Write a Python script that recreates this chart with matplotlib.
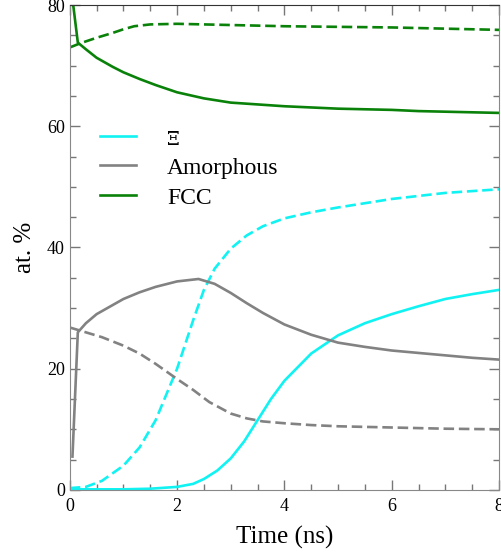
import matplotlib
matplotlib.use("Agg")
import matplotlib.pyplot as plt
from matplotlib.ticker import MultipleLocator

plt.rcParams['font.family'] = ['Liberation Serif', 'DejaVu Serif']

cyan = '#11f2f2'
gray = '#828282'
green = '#0a820a'

# Xi phase
t_xi_s = [0, 0.5, 1.0, 1.5, 2.0, 2.3, 2.5, 2.75, 3.0, 3.25, 3.5, 3.75, 4.0, 4.5, 5.0, 5.5, 6.0, 6.5, 7.0, 7.5, 8.0]
xi_s = [0.1, 0.1, 0.1, 0.2, 0.5, 1.0, 1.8, 3.2, 5.2, 8.0, 11.5, 15.0, 18.0, 22.5, 25.5, 27.5, 29.0, 30.3, 31.5, 32.3, 33.0]
t_xi_d = [0, 0.3, 0.6, 1.0, 1.3, 1.6, 2.0, 2.3, 2.5, 2.7, 3.0, 3.3, 3.6, 4.0, 4.5, 5.0, 5.5, 6.0, 6.5, 7.0, 7.5, 8.0]
xi_d = [0.3, 0.5, 1.5, 4.0, 7.0, 11.5, 20.0, 28.0, 33.0, 36.5, 39.8, 42.0, 43.5, 44.8, 45.8, 46.6, 47.3, 48.0, 48.5, 49.0, 49.3, 49.6]

# Amorphous
t_am_s = [0.05, 0.15, 0.3, 0.5, 0.8, 1.0, 1.3, 1.6, 2.0, 2.4, 2.7, 3.0, 3.3, 3.6, 4.0, 4.5, 5.0, 5.5, 6.0, 6.5, 7.0, 7.5, 8.0]
am_s = [5.5, 26.0, 27.5, 29.0, 30.5, 31.5, 32.6, 33.5, 34.4, 34.8, 34.0, 32.5, 30.8, 29.2, 27.3, 25.6, 24.3, 23.6, 23.0, 22.6, 22.2, 21.8, 21.5]
t_am_d = [0, 0.3, 0.6, 1.0, 1.3, 1.6, 2.0, 2.3, 2.6, 3.0, 3.3, 3.6, 4.0, 4.5, 5.0, 6.0, 7.0, 8.0]
am_d = [26.8, 26.0, 25.2, 23.8, 22.5, 20.8, 18.3, 16.5, 14.5, 12.6, 11.8, 11.3, 11.0, 10.7, 10.5, 10.3, 10.1, 10.0]

# FCC
t_fcc_s = [0.05, 0.15, 0.3, 0.5, 0.8, 1.0, 1.3, 1.6, 2.0, 2.5, 3.0, 3.5, 4.0, 4.5, 5.0, 5.5, 6.0, 6.5, 7.0, 7.5, 8.0]
fcc_s = [81.0, 73.8, 72.7, 71.3, 69.8, 68.9, 67.8, 66.8, 65.6, 64.6, 63.9, 63.6, 63.3, 63.1, 62.9, 62.8, 62.7, 62.5, 62.4, 62.3, 62.2]
t_fcc_d = [0, 0.2, 0.5, 0.8, 1.0, 1.2, 1.5, 2.0, 2.5, 3.0, 4.0, 5.0, 6.0, 7.0, 8.0]
fcc_d = [73.0, 73.7, 74.6, 75.4, 76.0, 76.5, 76.8, 76.9, 76.8, 76.7, 76.5, 76.4, 76.3, 76.1, 75.9]

fig = plt.figure(figsize=(5.02, 5.58), dpi=100)
ax = fig.add_axes([0.139, 0.122, 0.855, 0.869])

lw = 1.9
dash = (0, (4.0, 1.8))
ax.plot(t_xi_s, xi_s, color=cyan, lw=lw, label='Ξ')
ax.plot(t_xi_d, xi_d, color=cyan, lw=lw, linestyle=dash)
ax.plot(t_am_s, am_s, color=gray, lw=lw, label='Amorphous')
ax.plot(t_am_d, am_d, color=gray, lw=lw, linestyle=dash)
ax.plot(t_fcc_s, fcc_s, color=green, lw=lw, label='FCC')
ax.plot(t_fcc_d, fcc_d, color=green, lw=lw, linestyle=dash)

ax.set_xlim(0, 8)
ax.set_ylim(0, 80)
ax.xaxis.set_major_locator(MultipleLocator(2))
ax.xaxis.set_minor_locator(MultipleLocator(0.5))
ax.yaxis.set_major_locator(MultipleLocator(20))
ax.yaxis.set_minor_locator(MultipleLocator(5))
ax.tick_params(which='both', direction='in', top=True, right=True, labelsize=13, colors='#777777', labelcolor='black')
ax.tick_params(which='major', length=7, width=1)
ax.tick_params(which='minor', length=4, width=1)
ax.tick_params(axis='x', pad=6)
for s in ['left', 'bottom', 'right']:
    ax.spines[s].set_color('#888888')
ax.spines['top'].set_color('#333333')

ax.set_xlabel('Time (ns)', fontsize=18, labelpad=8)
ax.set_ylabel('at. %', fontsize=18, labelpad=8)

leg = ax.legend(loc='upper left', bbox_to_anchor=(0.02, 0.79), frameon=False, fontsize=17,
                handlelength=1.55, handletextpad=1.3, labelspacing=0.36)
leg.get_texts()[0].set_fontsize(13)
leg.get_texts()[0].set_family('DejaVu Serif')

fig.savefig('out.png', dpi=100)
